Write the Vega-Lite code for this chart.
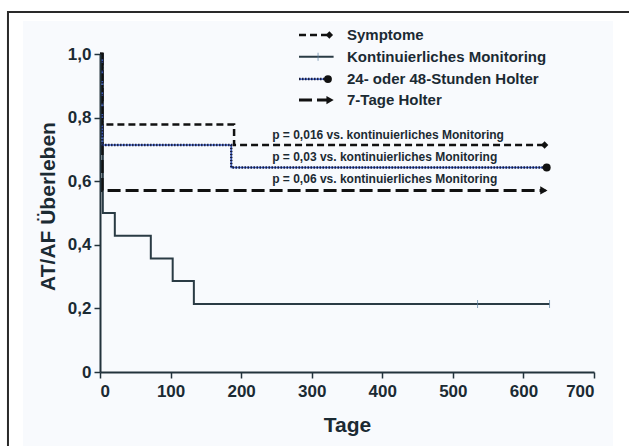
{
  "$schema": "https://vega.github.io/schema/vega-lite/v6.json",
  "width": 494,
  "height": 318,
  "autosize": {"type": "none"},
  "padding": {"left": 100, "top": 54, "right": 35, "bottom": 74},
  "background": "white",
  "config": {"view": {"stroke": null}, "font": "Liberation Sans"},
  "datasets": {
    "frame": [{"day": -130.4, "day2": 760, "surv": 1.132, "surv2": -0.3}],
    "panel": [{"day": -109, "day2": 727, "surv": 1.104, "surv2": -0.3}],
    "curves": [
      {"series": "Symptome", "day": 0, "surv": 1.0},
      {"series": "Symptome", "day": 3, "surv": 0.778},
      {"series": "Symptome", "day": 190, "surv": 0.714},
      {"series": "Symptome", "day": 630, "surv": 0.714},
      {"series": "Kontinuierliches Monitoring", "day": 0, "surv": 1.0},
      {"series": "Kontinuierliches Monitoring", "day": 4, "surv": 0.5},
      {"series": "Kontinuierliches Monitoring", "day": 21, "surv": 0.4286},
      {"series": "Kontinuierliches Monitoring", "day": 72, "surv": 0.357},
      {"series": "Kontinuierliches Monitoring", "day": 103, "surv": 0.286},
      {"series": "Kontinuierliches Monitoring", "day": 133, "surv": 0.214},
      {"series": "Kontinuierliches Monitoring", "day": 637, "surv": 0.214},
      {"series": "24- oder 48-Stunden Holter", "day": 0, "surv": 1.0},
      {"series": "24- oder 48-Stunden Holter", "day": 3, "surv": 0.714},
      {"series": "24- oder 48-Stunden Holter", "day": 186, "surv": 0.643},
      {"series": "24- oder 48-Stunden Holter", "day": 633, "surv": 0.643},
      {"series": "7-Tage Holter", "day": 0, "surv": 1.0},
      {"series": "7-Tage Holter", "day": 3, "surv": 0.571},
      {"series": "7-Tage Holter", "day": 631, "surv": 0.571}
    ],
    "ends": [
      {"series": "Symptome", "day": 630, "surv": 0.714},
      {"series": "24- oder 48-Stunden Holter", "day": 633, "surv": 0.643},
      {"series": "7-Tage Holter", "day": 629, "surv": 0.571},
      {"series": "Symptome", "day": 325, "surv": 1.06},
      {"series": "24- oder 48-Stunden Holter", "day": 323, "surv": 0.921},
      {"series": "7-Tage Holter", "day": 326, "surv": 0.855}
    ],
    "censor": [
      {"day": 535, "surv": 0.214},
      {"day": 637, "surv": 0.214},
      {"day": 309, "surv": 0.991}
    ],
    "legend": [
      {"series": "Symptome", "label": "Symptome", "day": 282, "day2": 322, "surv": 1.06},
      {"series": "Kontinuierliches Monitoring", "label": "Kontinuierliches Monitoring", "day": 282, "day2": 331, "surv": 0.991},
      {"series": "24- oder 48-Stunden Holter", "label": "24- oder 48-Stunden Holter", "day": 282, "day2": 322, "surv": 0.921},
      {"series": "7-Tage Holter", "label": "7-Tage Holter", "day": 282, "day2": 322, "surv": 0.855}
    ],
    "pvals": [
      {"label": "p = 0,016 vs. kontinuierliches Monitoring", "day": 244, "surv": 0.745},
      {"label": "p = 0,03 vs. kontinuierliches Monitoring", "day": 244, "surv": 0.676},
      {"label": "p = 0,06 vs. kontinuierliches Monitoring", "day": 244, "surv": 0.607}
    ]
  },
  "encoding": {
    "x": {
      "field": "day", "type": "quantitative",
      "scale": {"domain": [0, 700], "nice": false, "zero": false},
      "axis": {
        "values": [0, 100, 200, 300, 400, 500, 600, 700],
        "title": "Tage", "grid": false, "zindex": 1,
        "domainColor": "#22333c", "domainWidth": 2,
        "tickColor": "#22333c", "tickWidth": 1.5, "tickSize": 6,
        "labelFont": "Liberation Sans", "labelFontWeight": "bold", "labelFontSize": 17, "labelColor": "#1b2a33", "labelPadding": 5,
        "titleFont": "Liberation Sans", "titleFontWeight": "bold", "titleFontSize": 21, "titleColor": "#1b2a33", "titlePadding": 15
      }
    },
    "y": {
      "field": "surv", "type": "quantitative",
      "scale": {"domain": [0, 1], "nice": false, "zero": false},
      "axis": {
        "values": [0, 0.2, 0.4, 0.6, 0.8, 1.0],
        "labelExpr": "datum.value == 0 ? '0' : replace(format(datum.value, '.1f'), '.', ',')",
        "title": "AT/AF Überleben", "grid": false, "zindex": 1,
        "domainColor": "#22333c", "domainWidth": 2,
        "tickColor": "#22333c", "tickWidth": 1.5, "tickSize": 6,
        "labelFont": "Liberation Sans", "labelFontWeight": "bold", "labelFontSize": 17, "labelColor": "#1b2a33", "labelPadding": 3,
        "titleFont": "Liberation Sans", "titleFontWeight": "bold", "titleFontSize": 21, "titleColor": "#1b2a33", "titlePadding": 9, "titleY": 152
      }
    }
  },
  "layer": [
    {
      "data": {"name": "panel"},
      "mark": {"type": "rect", "fill": "#f8fafd", "stroke": null},
      "encoding": {"x2": {"field": "day2"}, "y2": {"field": "surv2"}}
    },
    {
      "data": {"name": "frame"},
      "mark": {"type": "rect", "fill": null, "stroke": "#2a2a2a", "strokeWidth": 2},
      "encoding": {"x2": {"field": "day2"}, "y2": {"field": "surv2"}}
    },
    {
      "data": {"name": "curves"},
      "transform": [{"filter": "datum.series == 'Kontinuierliches Monitoring'"}],
      "mark": {"type": "line", "interpolate": "step-after", "color": "#2a3b44", "strokeWidth": 2},
      "encoding": {"order": {"field": "day", "type": "quantitative"}}
    },
    {
      "data": {"name": "curves"},
      "transform": [{"filter": "datum.series == '7-Tage Holter'"}],
      "mark": {"type": "line", "interpolate": "step-after", "color": "#111111", "strokeWidth": 3, "strokeDash": [13, 5]},
      "encoding": {"order": {"field": "day", "type": "quantitative"}}
    },
    {
      "data": {"name": "curves"},
      "transform": [{"filter": "datum.series == '24- oder 48-Stunden Holter'"}],
      "mark": {"type": "line", "interpolate": "step-after", "color": "#3f63d0", "strokeWidth": 1.5},
      "encoding": {"order": {"field": "day", "type": "quantitative"}}
    },
    {
      "data": {"name": "curves"},
      "transform": [{"filter": "datum.series == '24- oder 48-Stunden Holter'"}],
      "mark": {"type": "line", "interpolate": "step-after", "color": "#1a1f40", "strokeWidth": 2.5, "strokeDash": [1.5, 1.5]},
      "encoding": {"order": {"field": "day", "type": "quantitative"}}
    },
    {
      "data": {"name": "curves"},
      "transform": [{"filter": "datum.series == 'Symptome'"}],
      "mark": {"type": "line", "interpolate": "step-after", "color": "#111111", "strokeWidth": 2.5, "strokeDash": [7, 4]},
      "encoding": {"order": {"field": "day", "type": "quantitative"}}
    },
    {
      "data": {"name": "legend"},
      "transform": [{"filter": "datum.series == 'Kontinuierliches Monitoring'"}],
      "mark": {"type": "rule", "color": "#2a3b44", "strokeWidth": 2},
      "encoding": {"x2": {"field": "day2"}}
    },
    {
      "data": {"name": "legend"},
      "transform": [{"filter": "datum.series == '7-Tage Holter'"}],
      "mark": {"type": "rule", "color": "#111111", "strokeWidth": 3, "strokeDash": [13, 5]},
      "encoding": {"x2": {"field": "day2"}}
    },
    {
      "data": {"name": "legend"},
      "transform": [{"filter": "datum.series == '24- oder 48-Stunden Holter'"}],
      "mark": {"type": "rule", "color": "#3f63d0", "strokeWidth": 1.5},
      "encoding": {"x2": {"field": "day2"}}
    },
    {
      "data": {"name": "legend"},
      "transform": [{"filter": "datum.series == '24- oder 48-Stunden Holter'"}],
      "mark": {"type": "rule", "color": "#1a1f40", "strokeWidth": 2.5, "strokeDash": [1.5, 1.5]},
      "encoding": {"x2": {"field": "day2"}}
    },
    {
      "data": {"name": "legend"},
      "transform": [{"filter": "datum.series == 'Symptome'"}],
      "mark": {"type": "rule", "color": "#111111", "strokeWidth": 2.5, "strokeDash": [7, 4]},
      "encoding": {"x2": {"field": "day2"}}
    },
    {
      "data": {"name": "censor"},
      "mark": {"type": "tick", "orient": "vertical", "color": "#5a7fa0", "thickness": 1, "size": 8}
    },
    {
      "data": {"name": "ends"},
      "mark": {"type": "point", "filled": true, "color": "#111111", "opacity": 1},
      "encoding": {
        "shape": {
          "field": "series", "type": "nominal",
          "scale": {"domain": ["Symptome", "24- oder 48-Stunden Holter", "7-Tage Holter"], "range": ["diamond", "circle", "triangle-right"]},
          "legend": null
        },
        "size": {
          "field": "series", "type": "nominal",
          "scale": {"domain": ["Symptome", "24- oder 48-Stunden Holter", "7-Tage Holter"], "range": [55, 70, 70]},
          "legend": null
        }
      }
    },
    {
      "data": {"name": "legend"},
      "mark": {"type": "text", "align": "left", "baseline": "middle", "font": "Liberation Sans", "fontWeight": "bold", "fontSize": 15, "color": "#1b2a33", "dx": 48},
      "encoding": {"text": {"field": "label"}}
    },
    {
      "data": {"name": "pvals"},
      "mark": {"type": "text", "align": "left", "baseline": "middle", "font": "Liberation Sans", "fontWeight": "bold", "fontSize": 12, "color": "#1b2a33"},
      "encoding": {"text": {"field": "label"}}
    }
  ]
}
